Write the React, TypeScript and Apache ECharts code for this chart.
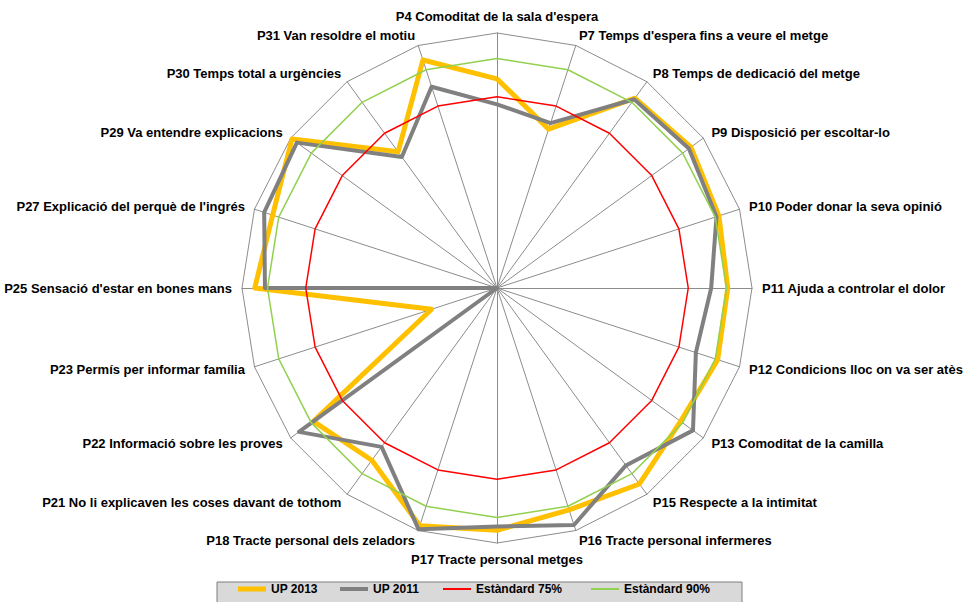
import React, { useEffect, useRef } from "react";
import * as echarts from "echarts";

// Indicators in clockwise order starting at the top
const indicators: string[] = [
  "P4 Comoditat de la sala d'espera",
  "P7 Temps d'espera fins a veure el metge",
  "P8 Temps de dedicació del metge",
  "P9 Disposició per escoltar-lo",
  "P10 Poder donar la seva opinió",
  "P11 Ajuda a controlar el dolor",
  "P12 Condicions lloc on va ser atès",
  "P13 Comoditat de la camilla",
  "P15 Respecte a la intimitat",
  "P16 Tracte personal infermeres",
  "P17 Tracte personal metges",
  "P18 Tracte personal dels zeladors",
  "P21 No li explicaven les coses davant de tothom",
  "P22 Informació sobre les proves",
  "P23 Permís per informar família",
  "P25 Sensació d'estar en bones mans",
  "P27 Explicació del perquè de l'ingrés",
  "P29 Va entendre explicacions",
  "P30 Temps total a urgències",
  "P31 Van resoldre el motiu",
];

const up2013: number[] = [82, 65.5, 92, 94, 91.5, 90.5, 91, 89, 95, 91.5, 95, 98, 83.5, 89, 27, 95, 92.5, 99.4, 66, 94];
const up2011: number[] = [72, 68, 91.5, 93, 90.5, 84, 82, 95, 86, 97.7, 93.5, 99.5, 77, 96, 0, 91, 96, 97, 63.5, 83];
const std75: number[] = [75, 75, 75, 75, 75, 75, 75, 75, 75, 75, 75, 75, 75, 75, 75, 75, 75, 75, 75, 75];
const std90: number[] = [90, 90, 90, 90, 90, 90, 90, 90, 90, 90, 90, 90, 90, 90, 90, 90, 90, 90, 90, 90];

const seriesNames: string[] = ["UP 2013", "UP 2011", "Estàndard 75%", "Estàndard 90%"];

const FONT = "'Liberation Sans', Arial, sans-serif";

// ECharts places radar indicators counter-clockwise; reorder to get clockwise layout
const order: number[] = [0, ...indicators.map((_, i) => i).slice(1).reverse()];
const reorder = (arr: number[]) => order.map((i) => arr[i]);

export default function App() {
  const ref = useRef<HTMLDivElement>(null);

  useEffect(() => {
    if (!ref.current) return;
    const chart = echarts.init(ref.current, undefined, { renderer: "svg" });

    const styles = [
      { color: "#FFC000", width: 5, iconH: 5, left: 238 },
      { color: "#808080", width: 4, iconH: 4, left: 340 },
      { color: "#FF0000", width: 1.5, iconH: 2, left: 443 },
      { color: "#92D050", width: 1.5, iconH: 2, left: 591 },
    ];
    const values = [up2013, up2011, std75, std90];

    chart.setOption({
      animation: false,
      backgroundColor: "#ffffff",
      graphic: [
        {
          type: "rect",
          z: 0,
          shape: { x: 217, y: 582, width: 525, height: 24 },
          style: { fill: "#d9d9d9", stroke: "#7f7f7f", lineWidth: 1 },
        },
      ],
      legend: styles.map((s, k) => ({
        left: s.left,
        top: 583,
        padding: 0,
        itemWidth: 28,
        itemHeight: s.iconH,
        icon: "rect",
        z: 5,
        textStyle: { color: "#000", fontSize: 12, fontWeight: "bold", fontFamily: FONT },
        data: [{ name: seriesNames[k], itemStyle: { color: s.color } }],
        selectedMode: false,
      })),
      radar: {
        center: [497, 288],
        radius: 255,
        startAngle: 90,
        shape: "polygon",
        splitNumber: 1,
        nameGap: 10,
        indicator: order.map((i) => ({ name: indicators[i], min: 0, max: 100 })),
        axisName: {
          color: "#000",
          fontSize: 13,
          fontWeight: "bold",
          fontFamily: FONT,
        },
        axisLine: { lineStyle: { color: "#8c8c8c", width: 1 } },
        splitLine: { lineStyle: { color: "#8c8c8c", width: 1 } },
        splitArea: { show: false },
        axisTick: { show: false },
        axisLabel: { show: false },
      },
      series: [
        {
          type: "radar",
          symbol: "none",
          data: values.map((v, k) => ({
            name: seriesNames[k],
            value: reorder(v),
            lineStyle: { color: styles[k].color, width: styles[k].width },
            itemStyle: { color: styles[k].color },
          })),
        },
      ],
    });

    return () => chart.dispose();
  }, []);

  return (
    <div
      ref={ref}
      style={{ position: "fixed", left: 0, top: 0, width: 964, height: 602, background: "#fff" }}
    />
  );
}
